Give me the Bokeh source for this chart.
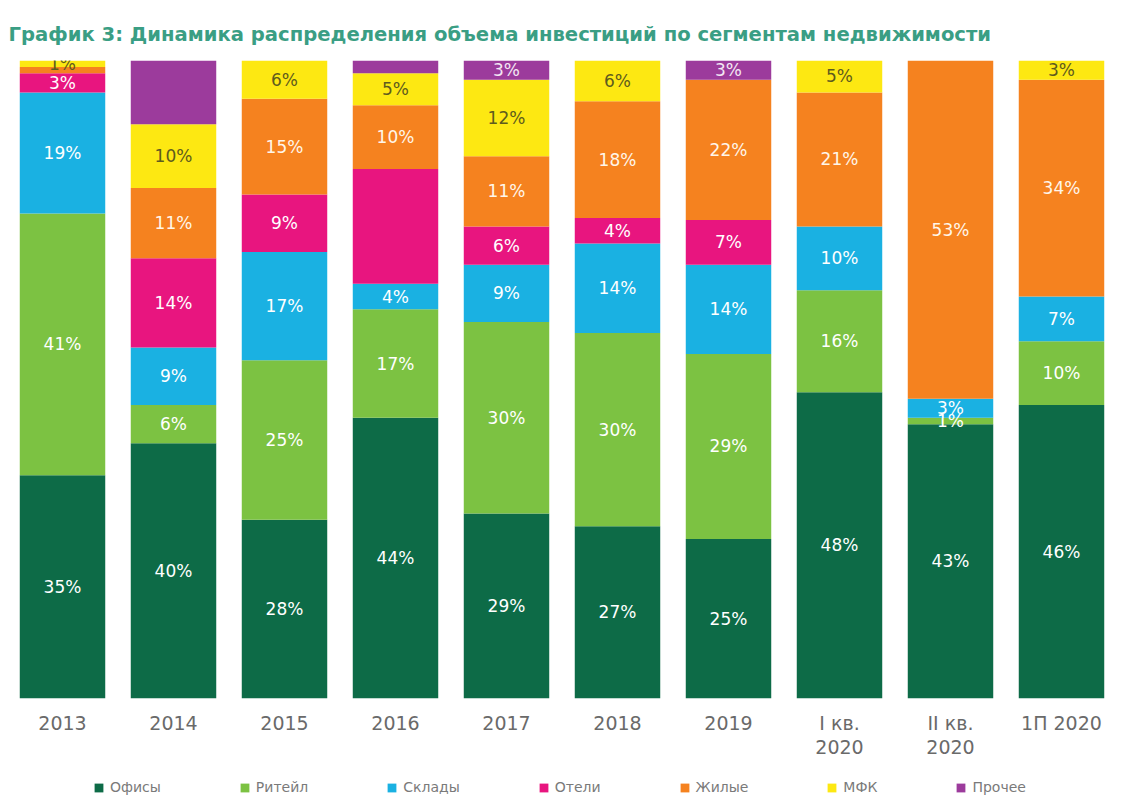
from bokeh.plotting import figure
from bokeh.layouts import column
from bokeh.models import ColumnDataSource, Range1d, FixedTicker, Legend, LegendItem
from bokeh.core.properties import value
from bokeh.embed import file_html
from bokeh.resources import INLINE

title_text = "График 3: Динамика распределения объема инвестиций по сегментам недвижимости"
categories = ["2013", "2014", "2015", "2016", "2017", "2018", "2019",
              "I кв.\n2020", "II кв.\n2020", "1П 2020"]
series = ["Офисы", "Ритейл", "Склады", "Отели", "Жилые", "МФК", "Прочее"]

offices     = [35, 40, 28, 44, 29, 27,   25, 48, 43, 46]
retail      = [41,  6, 25, 17, 30, 30.3, 29, 16,  1, 10]
warehouses  = [19,  9, 17,  4,  9, 14,   14, 10,  3,  7]
hotels      = [ 3, 14,  9, 18,  6,  4,    7,  0,  0,  0]
residential = [ 1, 11, 15, 10, 11, 18.3, 22, 21, 53, 34]
mfc         = [ 1, 10,  6,  5, 12,  6.4,  0,  5,  0,  3]
other       = [ 0, 10,  0,  2,  3,  0,    3,  0,  0,  0]

# segments whose value is not printed in the original
unlabeled = [(0, "Жилые"), (1, "Прочее"), (3, "Отели"), (3, "Прочее")]

colors = ["#0d6b47", "#7cc242", "#1ab1e2", "#e8157f", "#f5821f", "#fde812", "#9c3b9c"]
label_colors = ["#ffffff", "#ffffff", "#ffffff", "#ffffff", "#fff6ea", "#5e5b1e", "#f3e6f3"]

values = [offices, retail, warehouses, hotels, residential, mfc, other]
data = {"x": list(range(len(categories)))}
for name, vals in zip(series, values):
    data[name] = vals
source = ColumnDataSource(data)

p = figure(width=1105, height=767,
           x_range=Range1d(-0.5586, 9.3964), y_range=Range1d(0, 100),
           output_backend="svg", toolbar_location=None,
           y_axis_location=None,
           min_border_left=0, min_border_right=0,
           min_border_top=60, min_border_bottom=69)

p.title.text = title_text
p.title.text_font = "DejaVu Sans"
p.title.text_font_size = "19.6px"
p.title.text_font_style = "bold"
p.title.text_color = "#3a9e84"
p.title.align = "left"
p.title.offset = 8
p.title.standoff = 29

p.vbar_stack(series, x="x", width=0.77, color=colors, line_color=None, source=source)

# labels
lx, ly, lt, lc = [], [], [], []
for i in range(len(categories)):
    base = 0.0
    for s, (name, vals) in enumerate(zip(series, values)):
        v = vals[i]
        if v > 0 and (i, name) not in unlabeled:
            lx.append(i)
            ly.append(base + v / 2)
            lt.append(f"{v:.0f}%")
            lc.append(label_colors[s])
        base += v
lsrc = ColumnDataSource(dict(x=lx, y=ly, t=lt, c=lc))
p.text(x="x", y="y", text="t", text_color="c", source=lsrc,
       text_align="center", text_baseline="middle",
       text_font=value("DejaVu Sans"), text_font_size="17px")

p.xaxis.ticker = FixedTicker(ticks=list(range(len(categories))))
p.xaxis.major_label_overrides = {i: c for i, c in enumerate(categories)}
p.xaxis.axis_line_color = None
p.xaxis.major_tick_line_color = None
p.xaxis.minor_tick_line_color = None
p.xaxis.major_label_standoff = 7
p.xaxis.major_label_text_font = "DejaVu Sans"
p.xaxis.major_label_text_font_size = "19px"
p.xaxis.major_label_text_line_height = 1.1
p.xaxis.major_label_text_color = "#6a6a6a"

p.xgrid.visible = False
p.ygrid.visible = False
p.outline_line_color = None

# legend strip (key glyphs sit outside the visible range)
pl = figure(width=1105, height=30, x_range=Range1d(0, 1), y_range=Range1d(0, 1),
            output_backend="svg", toolbar_location=None,
            x_axis_location=None, y_axis_location=None,
            min_border=0)
pl.xgrid.visible = False
pl.ygrid.visible = False
pl.outline_line_color = None
keys = [pl.vbar(x=[-5], top=[0], width=0.1, fill_color=c, line_color=None) for c in colors]
legend = Legend(items=[LegendItem(label=n, renderers=[r]) for n, r in zip(series, keys)],
                orientation="horizontal", location=(91, 0),
                spacing=78, glyph_width=11, glyph_height=11, label_standoff=6,
                label_text_font="DejaVu Sans", label_text_font_size="14px",
                label_text_color="#7a7a7a",
                border_line_alpha=0, background_fill_alpha=0, padding=2, margin=0)
pl.add_layout(legend, "center")

layout = column(p, pl, spacing=0)
open("out.html", "w").write(file_html(layout, INLINE))
